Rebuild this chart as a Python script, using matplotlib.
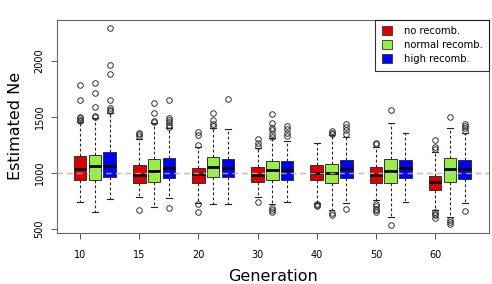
import matplotlib
matplotlib.use('Agg')
import matplotlib.pyplot as plt
from matplotlib.patches import Patch

# Ne estimates per generation (box stats)
generations = ['10', '15', '20', '30', '40', '50', '60']
series = ['no recomb.', 'normal recomb.', 'high recomb.']
colors = ['#dd0000', '#99ee44', '#0000ff']

no_q1 = [937, 913, 911, 922, 937, 913, 848]
no_med = [1033, 982, 988, 985, 1003, 985, 917]
no_q3 = [1152, 1068, 1047, 1051, 1068, 1051, 973]
no_lo = [738, 783, 735, 783, 729, 759, 670]
no_hi = [1458, 1301, 1235, 1220, 1271, 1235, 1190]
no_fliers = [
    [1460, 1475, 1490, 1500, 1652, 1783],
    [1330, 1345, 1357, 670],
    [1250, 1339, 1366, 720, 649],
    [1240, 1270, 1300, 738],
    [720, 712, 705],
    [1260, 1270, 720, 700, 680, 665, 650],
    [1210, 1230, 1295, 650, 635, 620, 600],
]

norm_q1 = [937, 922, 962, 937, 908, 908, 920]
norm_med = [1057, 1021, 1051, 1027, 1003, 1021, 1033]
norm_q3 = [1158, 1125, 1140, 1110, 1080, 1122, 1131]
norm_lo = [649, 699, 720, 723, 670, 610, 610]
norm_hi = [1490, 1444, 1399, 1310, 1339, 1444, 1399]
norm_fliers = [
    [1500, 1510, 1589, 1712, 1806],
    [1450, 1460, 1533, 1628],
    [1420, 1440, 1470, 1533],
    [1320, 1350, 1380, 1400, 1446, 1527, 690, 670, 650],
    [1350, 1360, 1370, 640, 625],
    [1560, 536],
    [1497, 580, 560, 545],
]

high_q1 = [962, 958, 962, 940, 955, 955, 949]
high_med = [1062, 1042, 1042, 1027, 1033, 1039, 1033]
high_q3 = [1188, 1134, 1122, 1107, 1116, 1116, 1116]
high_lo = [768, 774, 726, 738, 729, 744, 729]
high_hi = [1533, 1399, 1393, 1280, 1324, 1360, 1360]
high_fliers = [
    [1550, 1562, 1575, 1652, 1884, 1962, 2297],
    [1410, 1430, 1450, 1470, 1490, 1652, 690],
    [1661],
    [1330, 1360, 1390, 1420],
    [1350, 1380, 1410, 1440, 675],
    [],
    [1370, 1400, 1420, 1440, 658],
]

all_stats = [
    (no_q1, no_med, no_q3, no_lo, no_hi, no_fliers),
    (norm_q1, norm_med, norm_q3, norm_lo, norm_hi, norm_fliers),
    (high_q1, high_med, high_q3, high_lo, high_hi, high_fliers),
]

fig = plt.figure(figsize=(4.92, 2.84), dpi=100)
ax = fig.add_axes([0.116, 0.180, 0.878, 0.750])

ax.axhline(1000, color='#b4b4b4', lw=1.0, ls=(0, (4, 3)), zorder=0)

for s, (q1, med, q3, lo, hi, fl) in enumerate(all_stats):
    stats = []
    for g in range(len(generations)):
        stats.append(dict(q1=q1[g], med=med[g], q3=q3[g],
                          whislo=lo[g], whishi=hi[g], fliers=fl[g]))
    pos = [4 * g + 1 + s for g in range(len(generations))]
    ax.bxp(stats, positions=pos, widths=0.85, patch_artist=True,
           showfliers=True, manage_ticks=False,
           boxprops=dict(facecolor=colors[s], edgecolor='#333333', lw=0.7),
           medianprops=dict(color='black', lw=2.0),
           whiskerprops=dict(color='#222222', lw=0.8, ls=(0, (2.5, 2))),
           capprops=dict(color='#222222', lw=0.8),
           capwidths=0.4,
           flierprops=dict(marker='o', markerfacecolor='none',
                           markeredgecolor='#333333', markersize=4,
                           markeredgewidth=0.7))

# dashed reference line shows through the boxes
ax.axhline(1000, color='#c8c8c8', lw=1.0, ls=(0, (4, 3)), zorder=5, alpha=0.8)

ax.set_xlim(-0.555, 28.65)
ax.set_ylim(464, 2366)
ax.set_xticks([4 * g + 1 for g in range(len(generations))])
ax.set_xticklabels(generations, fontsize=7)
ax.set_yticks([500, 1000, 1500, 2000])
ax.set_yticklabels(['500', '1000', '1500', '2000'], fontsize=7,
                   rotation=90, va='center')
ax.tick_params(length=4, width=0.7, color='#555555', pad=5)
ax.tick_params(axis='x', pad=8)
for sp in ax.spines.values():
    sp.set_color('#666666')
    sp.set_linewidth(0.8)

ax.set_xlabel('Generation', fontsize=11.5, labelpad=7)
ax.set_ylabel('Estimated Ne', fontsize=11.5, labelpad=8)

handles = [Patch(facecolor=c, edgecolor='#333333', lw=0.6) for c in colors]
leg = ax.legend(handles, series, loc='upper right', fontsize=7.2,
                frameon=True, fancybox=False, borderaxespad=0,
                handlelength=1.0, handleheight=1.0, handletextpad=1.2,
                labelspacing=0.4, borderpad=0.65)
leg.get_frame().set_edgecolor('black')
leg.get_frame().set_linewidth(0.8)

plt.savefig('out.png', dpi=100)
plt.close()
